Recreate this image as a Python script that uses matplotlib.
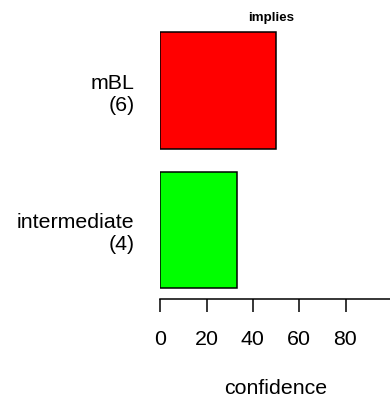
import matplotlib
matplotlib.use("Agg")
import matplotlib.pyplot as plt

plt.rcParams['font.family'] = ['Liberation Sans', 'DejaVu Sans']

# data
categories = ["intermediate\n(4)", "mBL\n(6)"]
values = [33.33, 50.0]
colors = ["#00ff00", "#ff0000"]
xticks = [0, 20, 40, 60, 80]
title = "implies"
xlabel = "confidence"

W, H = 390, 401
fig = plt.figure(figsize=(W / 100, H / 100), dpi=100)

# axes placed in pixel terms, x range 0..100 runs a bit past the right edge
left_px, right_px = 160.3, 391.8
top_px, bottom_px = 20.0, 298.7
ax = fig.add_axes([left_px / W, (H - bottom_px) / H,
                   (right_px - left_px) / W, (bottom_px - top_px) / H])

ypos = [0.7, 1.9]
ax.barh(ypos, values, height=1.0, color=colors, edgecolor="black", linewidth=1.1)

ax.set_xlim(0, 100)
ax.set_ylim(0.111, 2.507)

for s in ["top", "right", "left"]:
    ax.spines[s].set_visible(False)
ax.spines["bottom"].set_linewidth(1.1)

ax.set_xticks(xticks)
ax.set_xticklabels([str(t) for t in xticks], fontsize=15.4)
ax.tick_params(axis="x", length=9.4, width=1.1, pad=13)

ax.set_yticks(ypos)
ax.set_yticklabels(categories, fontsize=15.4, ha="right", linespacing=1.2)
ax.tick_params(axis="y", length=0, pad=18.5)

fig.text(275.8 / W, 1 - 388 / H, xlabel, fontsize=15.4, ha="center", va="center")
fig.text(271 / W, 1 - 18 / H, title, fontsize=9.6, fontweight="bold", ha="center", va="center")

fig.savefig("out.png", dpi=100)
